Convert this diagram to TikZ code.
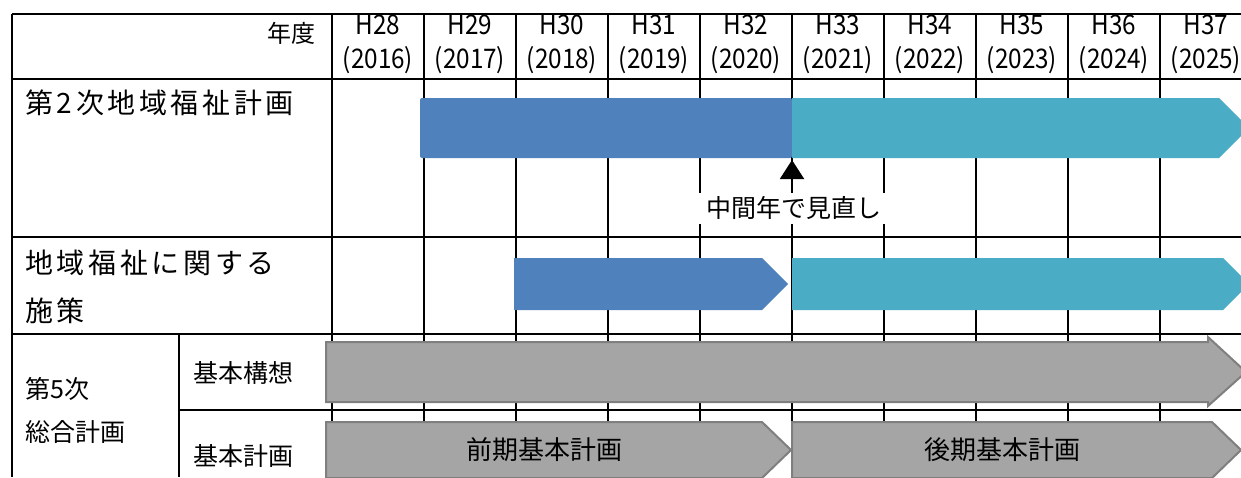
\documentclass[tikz,border=0pt]{standalone}
\usepackage{fontspec}
\setmainfont{Noto Sans CJK JP}
\newfontfamily\jpwide[LetterSpace=13]{Noto Sans CJK JP}
\newfontfamily\jpnarrow[FakeStretch=0.9]{Noto Sans CJK JP}
\usetikzlibrary{arrows.meta}
\definecolor{planblue}{HTML}{4F81BD}
\definecolor{planteal}{HTML}{4BACC6}
\definecolor{plangray}{HTML}{A5A5A5}
\definecolor{plandark}{HTML}{7F7F7F}

\begin{document}
\begin{tikzpicture}[x=1pt,y=-1pt]
	\tikzstyle{grid} = [line width=2.2pt,draw=black]
	\tikzstyle{bluebar} = [fill=planblue]
	\tikzstyle{tealbar} = [fill=planteal]
	\tikzstyle{graybar} = [fill=plangray,draw=plandark,line width=2pt]
	\tikzstyle{biglabel} = [anchor=west,inner sep=0pt,align=left,font=\jpwide\fontsize{28}{48}\selectfont]
	\tikzstyle{smalllabel} = [inner sep=0pt,align=left,font=\fontsize{25}{43}\selectfont]
	\tikzstyle{yearlabel} = [inner sep=0pt,font=\jpnarrow\fontsize{27}{27}\selectfont]
	\clip (0,0) rectangle (1241,477);
	% table lines
	\draw[grid] (12,14) -- (1241,14);
	\draw[grid] (12,79) -- (1241,79);
	\draw[grid] (12,237) -- (1241,237);
	\draw[grid] (12,334) -- (1241,334);
	\draw[grid] (179,410) -- (1241,410);
	\draw[grid] (12,14) -- (12,477);
	\draw[grid] (179,334) -- (179,477);
	\foreach \x in {332,424,...,1160}
		\draw[grid] (\x,14) -- (\x,477);
	% header
	\node[smalllabel,anchor=east,font=\fontsize{24}{24}\selectfont] (nendo) at (316,33) {年度};
	\foreach \h/\yr [count=\i] in {28/2016,29/2017,30/2018,31/2019,32/2020,33/2021,34/2022,35/2023,36/2024,37/2025} {
		\node[yearlabel] (h\i) at (286+92*\i,25) {H\h};
		\node[yearlabel] (y\i) at (286+92*\i,60) {(\yr)};
	}
	% row labels
	\node[biglabel] (plan2) at (25,103) {第2次地域福祉計画};
	\node[biglabel] (sesaku) at (25,287) {地域福祉に関する\\施策};
	\node[smalllabel,anchor=west] (sogo) at (25,410) {第5次\\総合計画};
	\node[smalllabel,anchor=west] (koso) at (193,373) {基本構想};
	\node[smalllabel,anchor=west] (keikaku) at (193,456) {基本計画};
	% bars
	\fill[bluebar,rounded corners=2pt] (420,98) rectangle (792,158);
	\fill[tealbar] (792,98) -- (1219,98) -- (1249,128) -- (1219,158) -- (792,158) -- cycle;
	\fill[bluebar] (514,258) -- (762,258) -- (788,284) -- (762,310) -- (514,310) -- cycle;
	\fill[tealbar] (792,258) -- (1223,258) -- (1249,284) -- (1223,310) -- (792,310) -- cycle;
	\draw[graybar] (326,342) -- (1208,342) -- (1208,337) -- (1246,372) -- (1208,406) -- (1208,402) -- (326,402) -- cycle;
	\draw[graybar] (326,422) -- (762,422) -- (791,450) -- (762,478) -- (326,478) -- cycle;
	\draw[graybar] (792,422) -- (1212,422) -- (1241,450) -- (1212,478) -- (792,478) -- cycle;
	\node[smalllabel,font=\fontsize{26}{26}\selectfont] (zenki) at (544,450) {前期基本計画};
	\node[smalllabel,font=\fontsize{26}{26}\selectfont] (kouki) at (1002,450) {後期基本計画};
	% midterm review
	\node[smalllabel,fill=white,minimum width=190pt,minimum height=31pt] (note) at (794,208) {中間年で見直し};
	\coordinate (mid) at (792,160);
	\draw[line width=2pt,-{Triangle[width=24pt,length=19pt]}] (note.north -| mid) -- (mid);
\end{tikzpicture}
\end{document}
